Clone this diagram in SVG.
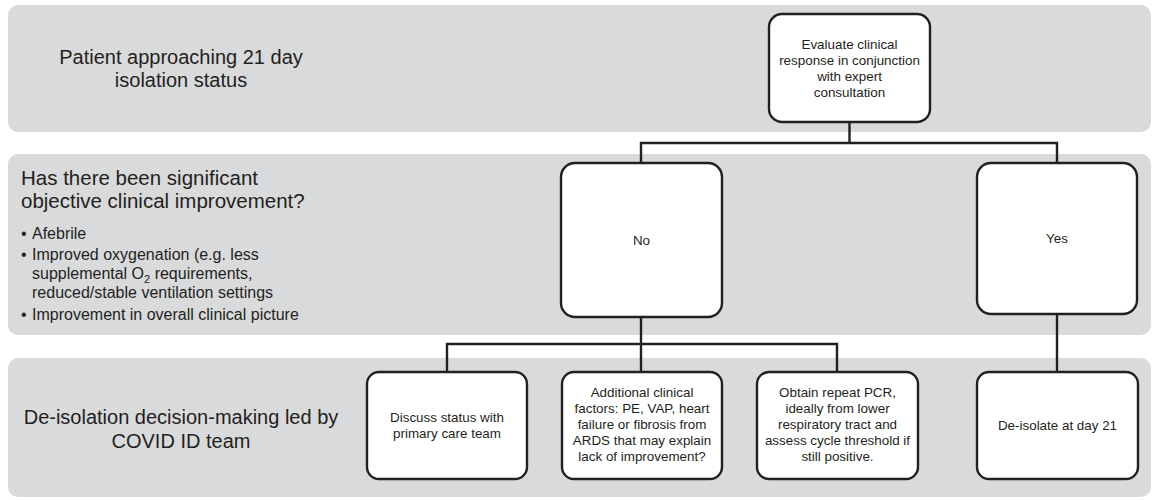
<svg xmlns="http://www.w3.org/2000/svg" width="1152" height="500" viewBox="0 0 1152 500">
<style>
.band{fill:#d9dadb;stroke:none}
.box{fill:#ffffff;stroke:#231f20;stroke-width:2.4}
.conn{fill:none;stroke:#231f20;stroke-width:2.4}
text{font-family:"Liberation Sans",Arial,sans-serif;fill:#231f20}
.title{font-size:20px}
.bl{font-size:16px}
.bt{font-size:13.4px;text-anchor:middle}
</style>
<rect width="1152" height="500" fill="#ffffff"/>
<g id="band1"><rect class="band" x="8" y="5" width="1143" height="127" rx="10"/>
<text class="title" text-anchor="middle"><tspan x="181" y="64">Patient approaching 21 day</tspan><tspan x="181" y="87">isolation status</tspan></text></g>
<g id="band2"><rect class="band" x="8" y="154" width="1143" height="181" rx="10"/>
<text class="title" style="font-size:20.5px"><tspan x="21" y="185">Has there been significant</tspan><tspan x="21" y="208">objective clinical improvement?</tspan></text>
<text class="bl"><tspan x="21" y="239">•</tspan><tspan x="32" y="239">Afebrile</tspan>
<tspan x="21" y="260">•</tspan><tspan x="32" y="260">Improved oxygenation (e.g. less</tspan>
<tspan x="32" y="279">supplemental O</tspan><tspan font-size="11" dy="4">2</tspan><tspan dy="-4"> requirements,</tspan>
<tspan x="32" y="298">reduced/stable ventilation settings</tspan>
<tspan x="21" y="320">•</tspan><tspan x="32" y="320">Improvement in overall clinical picture</tspan></text></g>
<g id="band3"><rect class="band" x="8" y="358" width="1143" height="139" rx="10"/>
<text class="title" text-anchor="middle"><tspan x="181" y="424">De-isolation decision-making led by</tspan><tspan x="181" y="448">COVID ID team</tspan></text></g>
<g id="connectors">
<path class="conn" d="M849.5,122 V143 M641,163 V143 H1057 V163"/>
<path class="conn" d="M641,317 V372 M447,372 V344 H837 V372"/>
<path class="conn" d="M1057,314 V372"/>
</g>
<g id="evaluate"><rect class="box" x="769" y="14" width="161" height="108" rx="13"/>
<text class="bt"><tspan x="849.5" y="49">Evaluate clinical</tspan><tspan x="849.5" y="65">response in conjunction</tspan><tspan x="849.5" y="81">with expert</tspan><tspan x="849.5" y="97">consultation</tspan></text></g>
<g id="no"><rect class="box" x="561" y="163" width="161" height="154" rx="14"/>
<text class="bt" x="641.5" y="245">No</text></g>
<g id="yes"><rect class="box" x="977" y="163" width="160" height="151" rx="14"/>
<text class="bt" x="1057" y="243">Yes</text></g>
<g id="discuss"><rect class="box" x="367" y="372" width="160" height="107" rx="12"/>
<text class="bt"><tspan x="447" y="422">Discuss status with</tspan><tspan x="447" y="438">primary care team</tspan></text></g>
<g id="additional"><rect class="box" x="562" y="372" width="160" height="107" rx="12"/>
<text class="bt"><tspan x="642" y="397">Additional clinical</tspan><tspan x="642" y="413">factors: PE, VAP, heart</tspan><tspan x="642" y="429">failure or fibrosis from</tspan><tspan x="642" y="445">ARDS that may explain</tspan><tspan x="642" y="461">lack of improvement?</tspan></text></g>
<g id="pcr"><rect class="box" x="757" y="372" width="161" height="107" rx="12"/>
<text class="bt"><tspan x="837.5" y="397">Obtain repeat PCR,</tspan><tspan x="837.5" y="413">ideally from lower</tspan><tspan x="837.5" y="429">respiratory tract and</tspan><tspan x="837.5" y="445">assess cycle threshold if</tspan><tspan x="837.5" y="461">still positive.</tspan></text></g>
<g id="deisolate"><rect class="box" x="977" y="372" width="161" height="107" rx="12"/>
<text class="bt" x="1057.5" y="430">De-isolate at day 21</text></g>
</svg>
